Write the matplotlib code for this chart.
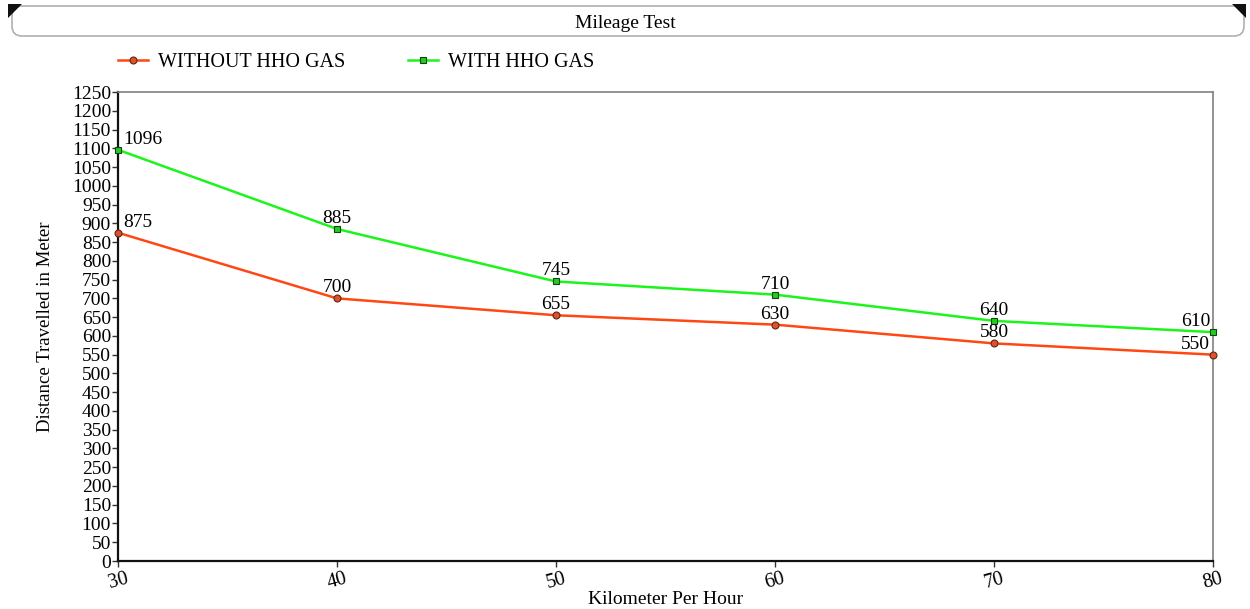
import matplotlib
matplotlib.use("Agg")
import matplotlib.pyplot as plt
from matplotlib.patches import FancyBboxPatch, Polygon

plt.rcParams['font.family'] = ['Liberation Serif', 'DejaVu Serif']

speeds = [30, 40, 50, 60, 70, 80]
without_hho = [875, 700, 655, 630, 580, 550]
with_hho = [1096, 885, 745, 710, 640, 610]
series_names = ["WITHOUT HHO GAS", "WITH HHO GAS"]
y_ticks = list(range(0, 1251, 50))

red = "#ff4713"
green = "#1cf51c"

fig = plt.figure(figsize=(12.5, 6.09), dpi=100)
ax = fig.add_axes([0.0944, 0.0788, 0.8760, 0.7701])

l1, = ax.plot(speeds, without_hho, color=red, lw=1.8, marker='o', ms=5,
              mfc="#e05030", mec="#5a2a10", mew=0.8, clip_on=False, zorder=3)
l2, = ax.plot(speeds, with_hho, color=green, lw=1.8, marker='s', ms=5,
              mfc="#22cc22", mec="#114411", mew=0.8, clip_on=False, zorder=3)

# value labels above each point
for i, (x, a, b) in enumerate(zip(speeds, without_hho, with_hho)):
    if i == 0:
        ha, dx = 'left', 4
    elif i == len(speeds) - 1:
        ha, dx = 'right', -2
    else:
        ha, dx = 'center', 0
    ax.annotate(str(a), (x, a), xytext=(dx, 1.5), textcoords='offset points',
                ha=ha, va='bottom', fontsize=14)
    ax.annotate(str(b), (x, b), xytext=(dx, 1.5), textcoords='offset points',
                ha=ha, va='bottom', fontsize=14)

ax.set_xlim(30, 80)
ax.set_ylim(0, 1250)
ax.set_xticks(speeds)
ax.set_xticklabels([str(s) for s in speeds], rotation=15, fontsize=14.5)
ax.set_yticks(y_ticks)
ax.set_yticklabels([str(t) for t in y_ticks], fontsize=14)
ax.tick_params(axis='both', direction='out', length=4, width=1, pad=1, color="#333333")
ax.tick_params(axis='x', pad=2)

for s in ['left', 'bottom']:
    ax.spines[s].set_color('#111111')
    ax.spines[s].set_linewidth(1.6)
for s in ['top', 'right']:
    ax.spines[s].set_color('#808080')
    ax.spines[s].set_linewidth(1.2)

ax.set_xlabel("Kilometer Per Hour", fontsize=14)
ax.xaxis.set_label_coords(0.5, -0.065)
ax.set_ylabel("Distance Travelled in Meter", fontsize=13.5)
ax.yaxis.set_label_coords(-0.058, 0.5)

ax.legend([l1, l2], series_names, loc='center left', bbox_to_anchor=(0.0, 1.062),
          ncol=2, frameon=False, fontsize=14.5, handlelength=1.5, handletextpad=0.5,
          columnspacing=3.1, borderaxespad=0, borderpad=0)

# title banner
W, H = 1250, 609
def fx(px): return px / W
def fy(py): return 1 - py / H

banner = FancyBboxPatch((fx(12), fy(36)), fx(1244) - fx(12), fy(6) - fy(36),
                        boxstyle="round,pad=0,rounding_size=0.008",
                        transform=fig.transFigure, facecolor='white',
                        edgecolor='#b0b0b0', lw=1.2, mutation_aspect=2.05)
fig.patches.append(banner)
for pts in ([(8, 4), (22, 4), (8, 18)], [(1246, 4), (1232, 4), (1246, 18)]):
    fig.patches.append(Polygon([(fx(x), fy(y)) for x, y in pts], closed=True,
                               transform=fig.transFigure, facecolor='#111111',
                               edgecolor='none'))
fig.text(0.5, fy(24), "Mileage Test", ha='center', va='center', fontsize=14)

fig.savefig("out.png", dpi=100)
